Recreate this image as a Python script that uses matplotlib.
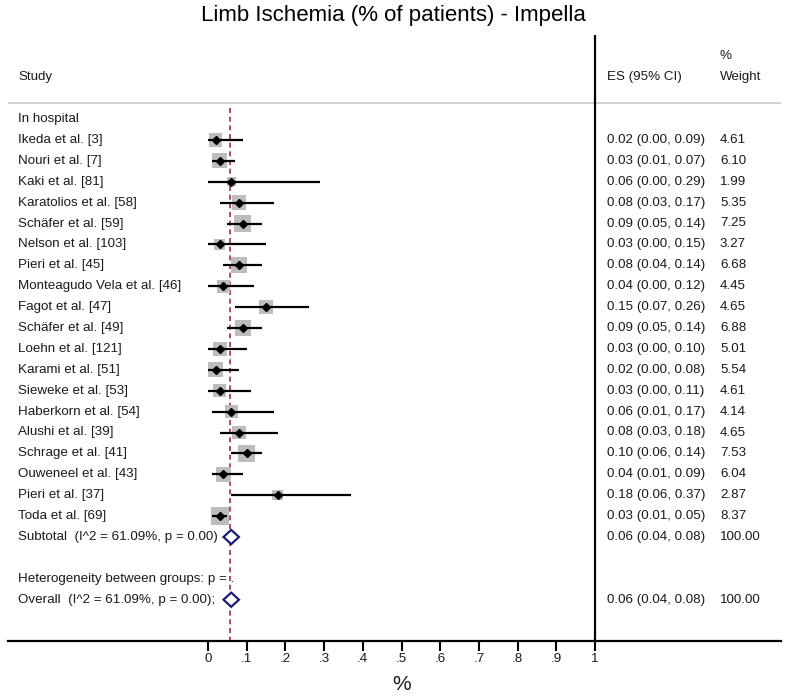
import numpy as np
import matplotlib.pyplot as plt
from matplotlib.patches import Polygon

plt.rcParams['font.family'] = ['Liberation Sans', 'DejaVu Sans']

# datos del forest plot
studies = ['Ikeda et al. [3]', 'Nouri et al. [7]', 'Kaki et al. [81]', 'Karatolios et al. [58]',
           'Schäfer et al. [59]', 'Nelson et al. [103]', 'Pieri et al. [45]',
           'Monteagudo Vela et al. [46]', 'Fagot et al. [47]', 'Schäfer et al. [49]',
           'Loehn et al. [121]', 'Karami et al. [51]', 'Sieweke et al. [53]',
           'Haberkorn et al. [54]', 'Alushi et al. [39]', 'Schrage et al. [41]',
           'Ouweneel et al. [43]', 'Pieri et al. [37]', 'Toda et al. [69]']
es = [0.02, 0.03, 0.06, 0.08, 0.09, 0.03, 0.08, 0.04, 0.15, 0.09,
      0.03, 0.02, 0.03, 0.06, 0.08, 0.10, 0.04, 0.18, 0.03]
lo = [0.00, 0.01, 0.00, 0.03, 0.05, 0.00, 0.04, 0.00, 0.07, 0.05,
      0.00, 0.00, 0.00, 0.01, 0.03, 0.06, 0.01, 0.06, 0.01]
hi = [0.09, 0.07, 0.29, 0.17, 0.14, 0.15, 0.14, 0.12, 0.26, 0.14,
      0.10, 0.08, 0.11, 0.17, 0.18, 0.14, 0.09, 0.37, 0.05]
weight = [4.61, 6.10, 1.99, 5.35, 7.25, 3.27, 6.68, 4.45, 4.65, 6.88,
          5.01, 5.54, 4.61, 4.14, 4.65, 7.53, 6.04, 2.87, 8.37]

pooled_es, pooled_lo, pooled_hi = 0.06, 0.04, 0.08
overall_line = 0.057
subtotal_label = 'Subtotal  (I^2 = 61.09%, p = 0.00)'
overall_label = 'Overall  (I^2 = 61.09%, p = 0.00);'
het_label = 'Heterogeneity between groups: p = .'
xticks = [0, .1, .2, .3, .4, .5, .6, .7, .8, .9, 1]
xticklabels = ['0', '.1', '.2', '.3', '.4', '.5', '.6', '.7', '.8', '.9', '1']

fig = plt.figure(figsize=(7.87, 6.97), dpi=100)
ax = fig.add_axes([8/787, 0, 773/787, 1])
x_izq = (8 - 208) / 387
x_der = (781 - 208) / 387
fila = 20.9
ax.set_xlim(x_izq, x_der)
ax.set_ylim((697 - 119) / fila, -119 / fila)

fs = 9.6
col_es = (607 - 208) / 387
col_w = (720 - 208) / 387
col_lab = (18 - 208) / 387
txt = '#1a1a1a'

# encabezados
fig.text(0.5, 1 - 16/697, 'Limb Ischemia (% of patients) - Impella', ha='center', va='center',
         fontsize=16, color='black')
ax.text(col_lab, -2.0, 'Study', fontsize=fs, va='center', color=txt)
ax.text(col_es, -2.0, 'ES (95% CI)', fontsize=fs, va='center', color=txt)
ax.text(col_w, -3.0, '%', fontsize=fs, va='center', color=txt)
ax.text(col_w, -2.0, 'Weight', fontsize=fs, va='center', color=txt)
ax.axhline(-0.77, color='#c8c8c8', lw=1.2)
ax.text(col_lab, 0, 'In hospital', fontsize=fs, va='center', color=txt)

y = np.arange(1, len(studies) + 1)
lado = 18 * 0.72 * np.sqrt(np.array(weight) / 8.37)
ax.scatter(es, y, s=lado**2, marker='s', color='#bdbdbd', linewidths=0, zorder=2)
ax.hlines(y, lo, hi, color='black', lw=1.6, zorder=3)
ax.plot(es, y, 'D', color='black', ms=4.5, zorder=4)

for i in range(len(studies)):
    ax.text(col_lab, y[i], studies[i], fontsize=fs, va='center', color=txt)
    ax.text(col_es, y[i], '{0:.2f} ({1:.2f}, {2:.2f})'.format(es[i], lo[i], hi[i]),
            fontsize=fs, va='center', color=txt)
    ax.text(col_w, y[i], '{0:.2f}'.format(weight[i]), fontsize=fs, va='center', color=txt)

def diamante(yy):
    h = 0.34
    pts = [[pooled_lo, yy], [pooled_es, yy - h], [pooled_hi, yy], [pooled_es, yy + h]]
    ax.add_patch(Polygon(pts, closed=True, facecolor='white', edgecolor='#1c1c7a', lw=1.6, zorder=5))

y_sub = len(studies) + 1
y_het = y_sub + 2
y_ov = y_sub + 3
diamante(y_sub)
diamante(y_ov)
ax.text(col_lab, y_sub, subtotal_label, fontsize=fs, va='center', color=txt)
ax.text(col_es, y_sub, '{0:.2f} ({1:.2f}, {2:.2f})'.format(pooled_es, pooled_lo, pooled_hi),
        fontsize=fs, va='center', color=txt)
ax.text(col_w, y_sub, '100.00', fontsize=fs, va='center', color=txt)
ax.text(col_lab, y_het, het_label, fontsize=fs, va='center', color=txt)
ax.text(col_lab, y_ov, overall_label, fontsize=fs, va='center', color=txt)
ax.text(col_es, y_ov, '{0:.2f} ({1:.2f}, {2:.2f})'.format(pooled_es, pooled_lo, pooled_hi),
        fontsize=fs, va='center', color=txt)
ax.text(col_w, y_ov, '100.00', fontsize=fs, va='center', color=txt)

# linea de referencia y eje
y_eje = (641 - 119) / fila
ax.vlines(overall_line, -0.53, y_eje, colors='#a3303c', linestyles=(0, (3, 2.2)), lw=1.2, zorder=1)
ax.vlines(1, (35 - 119) / fila, y_eje, colors='black', lw=1.6)

for s in ['top', 'left', 'right']:
    ax.spines[s].set_visible(False)
ax.spines['bottom'].set_position(('data', y_eje))
ax.spines['bottom'].set_linewidth(1.6)
ax.set_yticks([])
ax.set_xticks(xticks)
ax.set_xticklabels(xticklabels, fontsize=fs, color=txt)
ax.tick_params(axis='x', direction='out', length=7, width=1.5, pad=2)
ax.text(0.5, (684 - 119) / fila, '%', fontsize=15, ha='center', va='center', color=txt)

fig.savefig('out.png', dpi=100)
